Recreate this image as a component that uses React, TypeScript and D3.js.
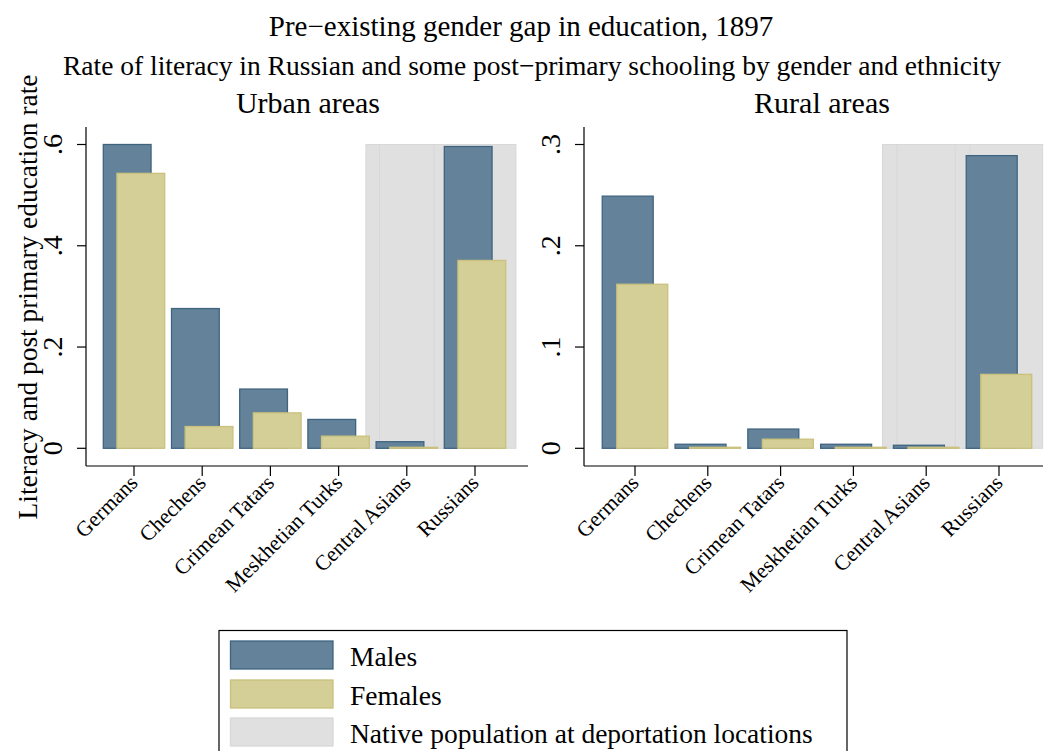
import React from 'react'
import * as d3 from 'd3'

const categories = ['Germans', 'Chechens', 'Crimean Tatars', 'Meskhetian Turks', 'Central Asians', 'Russians']
const nativeGroups = ['Central Asians', 'Russians']

const urbanMales = [0.6, 0.276, 0.117, 0.057, 0.013, 0.596]
const urbanFemales = [0.543, 0.043, 0.07, 0.024, 0.002, 0.371]
const ruralMales = [0.249, 0.004, 0.019, 0.004, 0.003, 0.289]
const ruralFemales = [0.162, 0.001, 0.009, 0.001, 0.001, 0.073]

const urbanTicks = [0, 0.2, 0.4, 0.6]
const ruralTicks = [0, 0.1, 0.2, 0.3]
const tickLabel = (v: number) => (v === 0 ? '0' : d3.format('.1f')(v).replace(/^0/, ''))

const legendItems = ['Males', 'Females', 'Native population at deportation locations']

const maleFill = '#64839a'
const maleStroke = '#3e6480'
const femaleFill = '#d4ce97'
const femaleStroke = '#c9c17d'
const nativeFill = '#e0e0e0'
const nativeStroke = '#d8d8d8'
const font = '"Liberation Serif", "Times New Roman", serif'

interface PanelProps {
  title: string
  males: number[]
  females: number[]
  ticks: number[]
  axisX: number
  axisEnd: number
  xRange: [number, number]
  titleX: number
}

function Panel({ title, males, females, ticks, axisX, axisEnd, xRange, titleX }: PanelProps) {
  const yMax = ticks[ticks.length - 1]
  const y = d3.scaleLinear().domain([0, yMax]).range([448.3, 144.5])
  const x = d3.scalePoint<string>().domain(categories).range(xRange)
  const step = (xRange[1] - xRange[0]) / (categories.length - 1)
  const bw = step * 0.7
  const off = step * 0.1
  const axisY = 466
  const axisTop = 127

  return (
    <g>
      <text x={titleX} y={113} textAnchor="middle" fontSize={30} fontFamily={font}>{title}</text>
      {/* native population background */}
      {nativeGroups.map(c => (
        <g key={c}>
          <rect x={x(c)! - off - step / 2} y={y(yMax)} width={step} height={y(0) - y(yMax)}
            fill={nativeFill} stroke={nativeStroke} strokeWidth={1} />
          <rect x={x(c)! + off - step / 2} y={y(yMax)} width={step} height={y(0) - y(yMax)}
            fill={nativeFill} stroke={nativeStroke} strokeWidth={1} />
        </g>
      ))}
      {categories.map((c, i) => (
        <rect key={'m' + c} x={x(c)! - off - bw / 2} y={y(males[i])} width={bw}
          height={y(0) - y(males[i])} fill={maleFill} stroke={maleStroke} strokeWidth={1.3} />
      ))}
      {categories.map((c, i) => (
        <rect key={'f' + c} x={x(c)! + off - bw / 2} y={y(females[i])} width={bw}
          height={y(0) - y(females[i])} fill={femaleFill} stroke={femaleStroke} strokeWidth={1.3} />
      ))}
      {/* axes */}
      <line x1={axisX} x2={axisX} y1={axisTop} y2={axisY} stroke="#000" strokeWidth={1.2} />
      <line x1={axisX} x2={axisEnd} y1={axisY} y2={axisY} stroke="#000" strokeWidth={1.2} />
      {ticks.map(t => (
        <g key={t}>
          <line x1={axisX - 9} x2={axisX} y1={y(t)} y2={y(t)} stroke="#000" strokeWidth={1.2} />
          <text transform={`translate(${axisX - 24},${y(t)}) rotate(-90)`} textAnchor="middle"
            fontSize={28} fontFamily={font}>{tickLabel(t)}</text>
        </g>
      ))}
      {categories.map(c => (
        <g key={'t' + c}>
          <line x1={x(c)} x2={x(c)} y1={axisY} y2={axisY + 10} stroke="#000" strokeWidth={1.2} />
          <text transform={`translate(${x(c)! + 5},${axisY + 18}) rotate(-45)`} textAnchor="end"
            fontSize={21.5} fontFamily={font}>{c}</text>
        </g>
      ))}
    </g>
  )
}

export default function App() {
  const swatchFill = [maleFill, femaleFill, nativeFill]
  const swatchStroke = [maleStroke, femaleStroke, nativeStroke]
  const swatchY = [641, 680, 718]
  return (
    <svg width={1044} height={751} style={{ position: 'absolute', left: 0, top: 0, background: '#fff' }}>
      <rect width={1044} height={751} fill="#fff" />
      <text x={521} y={36} textAnchor="middle" fontSize={29} fontFamily={font}>
        Pre−existing gender gap in education, 1897
      </text>
      <text x={532} y={75} textAnchor="middle" fontSize={27.5} fontFamily={font}>
        Rate of literacy in Russian and some post−primary schooling by gender and ethnicity
      </text>
      <text transform="translate(37,297) rotate(-90)" textAnchor="middle" fontSize={27.4} fontFamily={font}>
        Literacy and post primary education rate
      </text>
      <Panel title="Urban areas" males={urbanMales} females={urbanFemales} ticks={urbanTicks}
        axisX={86} axisEnd={528} xRange={[134, 475]} titleX={308} />
      <Panel title="Rural areas" males={ruralMales} females={ruralFemales} ticks={ruralTicks}
        axisX={584} axisEnd={1043} xRange={[635, 999]} titleX={822} />
      <rect x={219} y={630.5} width={628} height={140} fill="#fff" stroke="#000" strokeWidth={1.2} />
      {legendItems.map((l, i) => (
        <g key={l}>
          <rect x={230.5} y={swatchY[i]} width={102.5} height={28} fill={swatchFill[i]}
            stroke={swatchStroke[i]} strokeWidth={1.3} />
          <text x={350} y={swatchY[i] + 25} fontSize={27.5} fontFamily={font}>{l}</text>
        </g>
      ))}
    </svg>
  )
}
